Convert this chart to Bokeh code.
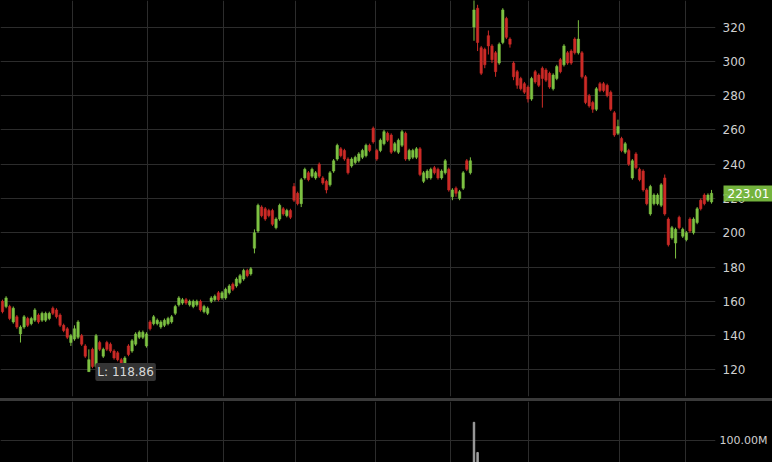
import re
from bokeh.plotting import figure
from bokeh.models import (Range1d, FixedTicker, Label, CustomJSTickFormatter, Div,
                          ColumnDataSource, LinearAxis)
from bokeh.layouts import column
from bokeh.embed import file_html
from bokeh.resources import INLINE

# ---------------- data ----------------
opens = [160, 157, 157, 148, 151, 141, 145, 150, 147, 149, 152, 149, 149, 150, 156, 155, 152, 146, 144, 136,
         138, 139, 140, 134, 119, 132, 122, 136, 128, 136, 135, 131, 130, 126, 122, 134, 131, 135, 139, 139,
         134, 148, 147, 147, 145, 146, 147, 148, 153, 158, 159, 161, 158, 157, 158, 160, 154, 153, 160, 161,
         165, 162, 162, 165, 170, 169, 171, 173, 178, 176, 191, 201, 215, 214, 213, 213, 203, 208, 214, 210,
         213, 227, 223, 217, 232, 235, 233, 232, 240, 232, 230, 228, 236, 243, 249, 248, 243, 239, 241, 242,
         244, 245, 251, 261, 248, 248, 252, 258, 257, 248, 247, 251, 258, 243, 244, 244, 249, 230, 232, 232,
         238, 237, 232, 235, 237, 221, 226, 220, 226, 242, 235,
         320, 331, 308, 307, 315, 309, 305, 299, 311, 325, 313, 299, 294, 290, 287, 285, 278, 294, 292, 296,
         295, 293, 284, 290, 301, 298, 305, 306, 313, 305, 305, 291, 280, 276, 272, 287, 287, 286, 282, 270,
         258, 255, 247, 248, 232, 246, 237, 236, 225, 211, 217, 217, 216, 232, 208, 197, 194, 209, 198, 196,
         208, 200, 206, 219, 222, 219, 218]
highs = [161, 163, 158, 157, 152, 146, 152, 151, 151, 156, 153, 154, 154, 154, 157, 156, 153, 147, 145, 141,
         146, 149, 141, 135, 132, 133, 141, 137, 133, 137, 136, 132, 131, 127, 128, 135, 138, 142, 143, 143,
         142, 149, 152, 150, 149, 150, 151, 152, 158, 163, 162, 162, 161, 161, 161, 161, 158, 157, 163, 164,
         166, 166, 168, 170, 171, 174, 176, 179, 179, 180, 202, 217, 216, 215, 214, 214, 209, 217, 215, 214,
         214, 229, 224, 232, 238, 236, 238, 236, 241, 233, 231, 236, 243, 252, 250, 249, 244, 244, 245, 247,
         249, 252, 252, 262, 249, 255, 260, 259, 258, 253, 255, 260, 259, 249, 249, 250, 250, 236, 237, 238,
         239, 238, 237, 243, 238, 226, 227, 225, 236, 243, 244,
         338, 333, 309, 308, 318, 310, 306, 311, 331, 326, 314, 300, 295, 291, 288, 286, 291, 295, 293, 297,
         296, 294, 293, 298, 302, 310, 306, 307, 314, 324, 306, 292, 281, 277, 285, 288, 288, 287, 283, 271,
         266, 256, 253, 249, 243, 247, 238, 237, 226, 228, 223, 223, 229, 234, 209, 204, 203, 210, 203, 201,
         209, 209, 215, 220, 223, 223, 225]
lows = [153, 156, 149, 147, 144, 136, 144, 145, 146, 148, 147, 148, 148, 149, 152, 150, 145, 142, 138, 134,
        137, 138, 134, 127, 118.86, 121, 121, 131, 127, 131, 130, 126, 125, 121, 121, 128, 130, 134, 138, 138,
        133, 143, 146, 146, 144, 145, 146, 147, 152, 157, 158, 158, 157, 156, 157, 154, 153, 152, 159, 160,
        160, 161, 161, 164, 166, 168, 170, 172, 174, 175, 188, 200, 209, 207, 209, 204, 202, 207, 210, 209,
        208, 218, 216, 215, 231, 230, 232, 231, 232, 228, 223, 227, 235, 242, 244, 242, 234, 238, 240, 241,
        243, 244, 247, 252, 242, 247, 251, 253, 246, 247, 246, 250, 242, 242, 243, 243, 233, 229, 231, 231,
        234, 231, 231, 234, 224, 219, 221, 219, 225, 236, 234,
        312, 306, 292, 296, 304, 299, 291, 298, 310, 313, 308, 289, 284, 283, 281, 276, 277, 287, 285, 273,
        288, 284, 283, 289, 293, 297, 298, 298, 304, 304, 290, 275, 273, 270, 271, 282, 282, 279, 271, 256,
        257, 247, 246, 239, 231, 237, 230, 224, 216, 210, 216, 216, 215, 210, 192, 196, 185, 202, 197, 195,
        200, 199, 205, 213, 216, 218, 217]
closes = [154, 162, 150, 156, 145, 145, 151, 146, 150, 155, 148, 153, 153, 153, 153, 151, 146, 143, 139, 140,
          144, 148, 135, 128, 126, 122, 140, 132, 132, 132, 131, 127, 126, 122, 127, 129, 137, 141, 142, 142,
          141, 144, 151, 149, 148, 149, 150, 151, 157, 162, 161, 159, 160, 160, 160, 155, 157, 156, 162, 163,
          161, 165, 167, 169, 167, 173, 175, 178, 175, 179, 200, 216, 210, 208, 210, 205, 208, 216, 211, 213,
          209, 219, 217, 231, 237, 231, 237, 235, 233, 229, 225, 235, 242, 251, 245, 243, 235, 243, 244, 246,
          248, 251, 248, 253, 243, 254, 259, 254, 247, 252, 254, 259, 243, 248, 248, 249, 234, 235, 236, 237,
          235, 232, 236, 242, 225, 225, 223, 224, 235, 237, 242,
          330, 311, 293, 298, 309, 301, 294, 310, 330, 314, 310, 291, 286, 284, 282, 278, 290, 288, 286, 290,
          289, 285, 292, 297, 294, 309, 299, 299, 305, 313, 291, 276, 274, 272, 284, 283, 283, 280, 272, 257,
          262, 248, 252, 240, 242, 238, 231, 225, 217, 227, 222, 222, 228, 211, 193, 203, 202, 203, 202, 200,
          201, 208, 214, 214, 217, 222, 223.01]

month_lines = [19.5, 40.2, 61.5, 81.4, 103.7, 124.5, 146.25, 171.3, 189.7]
price_ticks = [120, 140, 160, 180, 200, 220, 240, 260, 280, 300, 320]
vol_idx = [131, 132]
vol_values = [135e6, 77e6]
vol_ticks = [100e6]
last_price = 223.01
low_idx = 24
low_price = 118.86

# ---------------- styling ----------------
BG = "#000000"
GRID = "#2c2c2c"
UP = "#7dc142"
DOWN = "#cc2b27"
TXT = "#cfcfcf"
FONT = "DejaVu Sans"

idx = list(range(len(closes)))
colors = [UP if c >= o else DOWN for o, c in zip(opens, closes)]
src = ColumnDataSource(dict(
    x=idx, top=[max(o, c) for o, c in zip(opens, closes)],
    bottom=[min(o, c) for o, c in zip(opens, closes)],
    high=highs, low=lows, color=colors))

W = 772
RB = 57
X0, X1 = -0.55, 198.1
xr = Range1d(X0, X1)


def style_axis(ax, standoff, size="12px"):
    ax.axis_line_color = None
    ax.major_tick_line_color = None
    ax.minor_tick_line_color = None
    ax.major_tick_out = 0
    ax.major_tick_in = 0
    ax.minor_tick_out = 0
    ax.minor_tick_in = 0
    ax.major_label_text_color = TXT
    ax.major_label_text_font = FONT
    ax.major_label_text_font_size = size
    ax.major_label_standoff = standoff


p = figure(width=W, height=398, x_range=xr, y_range=Range1d(104.5, 335.5),
           output_backend="svg", toolbar_location=None, y_axis_location="right",
           background_fill_color=BG, border_fill_color=BG, outline_line_color=None,
           min_border_left=0, min_border_top=0, min_border_bottom=2, min_border_right=RB)
p.xaxis.visible = False
p.xgrid.ticker = FixedTicker(ticks=month_lines)
p.xgrid.grid_line_color = GRID
p.ygrid.grid_line_color = GRID
ya = p.yaxis[0]
ya.ticker = FixedTicker(ticks=price_ticks)
style_axis(ya, 7)

p.segment(x0="x", y0="low", x1="x", y1="high", color="color", line_width=1, source=src)
p.vbar(x="x", top="top", bottom="bottom", width=0.68, fill_color="color",
       line_color="color", line_width=0.5, source=src)

p.add_layout(Label(x=low_idx + 1.8, y=low_price, text="L: " + f"{low_price:.2f}",
                   text_baseline="middle", text_color="#d8d8d8", text_font=FONT,
                   text_font_size="12px", background_fill_color="#343434",
                   padding=2, border_radius=2))

# last-price tag: a second right axis whose single thick green tick is the box
tag = LinearAxis(ticker=FixedTicker(ticks=[last_price]),
                 formatter=CustomJSTickFormatter(code="return tick.toFixed(2);"))
style_axis(tag, -47)
tag.major_tick_line_color = UP
tag.major_tick_line_alpha = 0.93
tag.major_tick_line_width = 16
tag.major_tick_in = 25
tag.major_tick_out = 26
tag.major_label_text_color = "#ffffff"
p.add_layout(tag, "right")

sep = Div(text="", width=W, height=3, margin=0,
          styles={"background-color": "#3a3a3a"})

v = figure(width=W, height=61, x_range=xr, y_range=Range1d(57.7e6, 175e6),
           output_backend="svg", toolbar_location=None, y_axis_location="right",
           background_fill_color=BG, border_fill_color=BG, outline_line_color=None,
           min_border_left=0, min_border_top=0, min_border_bottom=0, min_border_right=RB)
v.xaxis.visible = False
v.xgrid.ticker = FixedTicker(ticks=month_lines)
v.xgrid.grid_line_color = GRID
v.ygrid.grid_line_color = GRID
va = v.yaxis[0]
va.ticker = FixedTicker(ticks=vol_ticks)
va.formatter = CustomJSTickFormatter(code="return (tick/1e6).toFixed(2) + 'M';")
style_axis(va, 4, "11px")
v.vbar(x=vol_idx, top=vol_values, bottom=0, width=0.4, color="#a0a0a0")

layout = column(p, sep, v, spacing=0, styles={"background-color": BG})

html = file_html(layout, INLINE)
html = re.sub(r"<body([^>]*)>", r'<body\1 style="background-color:#000000;">', html, count=1)
open("out.html", "w").write(html)
